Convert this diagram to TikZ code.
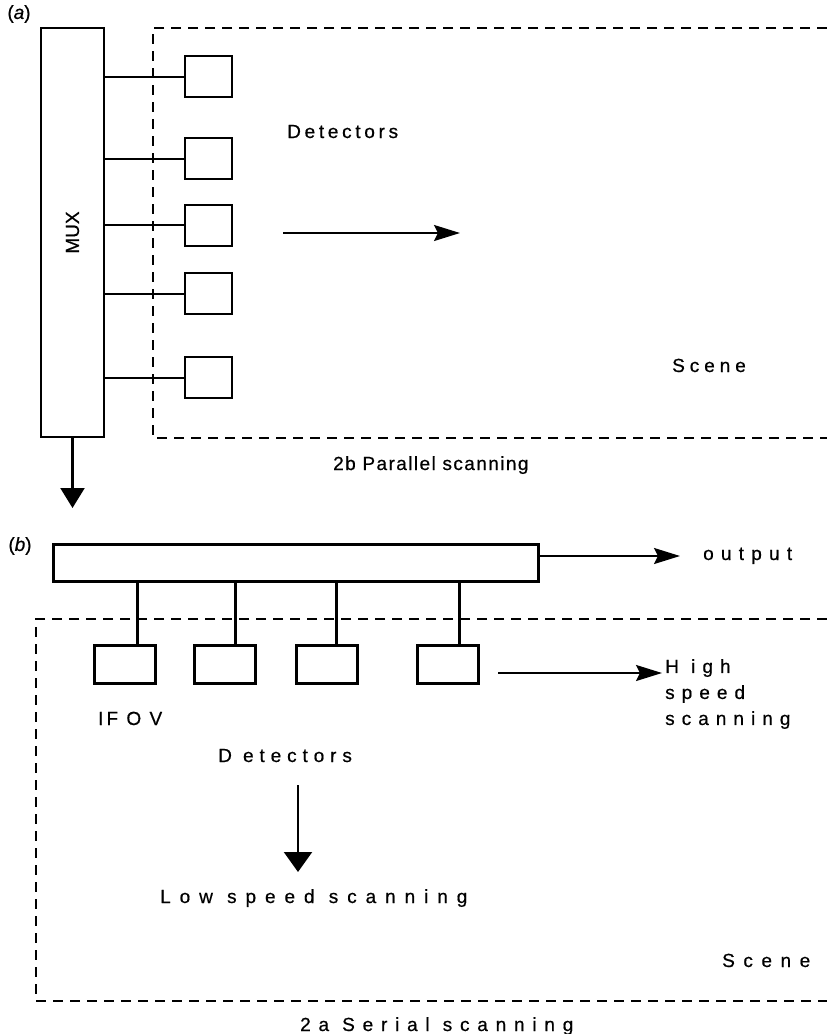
\documentclass[tikz,border=0pt]{standalone}
\usepackage{fontspec}
\setmainfont{Liberation Sans}
\usetikzlibrary{arrows.meta,positioning}

\begin{document}
\begin{tikzpicture}[x=1pt, y=-1pt,
  lab/.style={font=\fontsize{19}{26}\selectfont\addfontfeatures{LetterSpace=#1,FakeBold=0.6}, inner sep=0pt},
  lab/.default=0,
  det/.style={draw, line width=2pt, minimum width=47pt, minimum height=41pt, inner sep=0pt},
  sdet/.style={draw, line width=3pt, minimum width=61pt, minimum height=38pt, inner sep=0pt},
  scene/.style={dash pattern=on 10pt off 7pt, line width=2pt},
  link/.style={line width=2pt},
  boldlink/.style={line width=3pt},
  rarr/.style={-{Stealth[length=26pt,width=16pt,inset=4pt]}, line width=2.2pt},
  darr/.style={-{Triangle[length=20pt,width=#1]}, line width=2.2pt},
  darr/.default=24pt]
  \useasboundingbox (0,0) rectangle (827,1034);
  % (a) parallel scanning
  \node[lab] (taga) at (19,14) {(\textit{a})};
  \node[draw, line width=2pt, minimum width=63pt, minimum height=409pt, inner sep=0pt] (mux) at (72.5,232.5) {\rotatebox{90}{\fontsize{19}{20}\selectfont\addfontfeatures{FakeBold=0.6}MUX}};
  \draw[scene] (827,28) -- (153,28) -- (153,438) -- (827,438);
  \foreach \y [count=\k] in {76.5,158.5,225,293.5,377.5}{
    \node[det] (d\k) at (208.5,\y) {};
    \draw[link] (mux.east |- d\k) -- (d\k.west);
  }
  \node[lab=19.5, anchor=base west] (deta) at (287,138) {Detectors};
  \coordinate (m0) at (283,233);
  \coordinate (m1) at (460,233);
  \draw[rarr] (m0) -- (m1);
  \node[lab=26, anchor=base west] (scenea) at (672,372) {Scene};
  \node[lab=7.5, anchor=base west] (capa) at (333,470) {2b Parallel scanning};
  \coordinate (muxout) at (72.5,508);
  \draw[darr] (mux.south) -- (muxout);
  % (b) serial scanning
  \node[lab] (tagb) at (20,546) {(\textit{b})};
  \node[draw, line width=3pt, minimum width=485pt, minimum height=37pt, inner sep=0pt] (bar) at (295.5,562.5) {};
  \coordinate (otip) at (680,556);
  \draw[rarr] (bar.east |- otip) -- (otip);
  \node[lab=38, anchor=base west] (outlab) at (703,560) {output};
  \draw[scene] (827,619) -- (36,619) -- (36,1001) -- (827,1001);
  \foreach \x/\c [count=\k] in {124.5/137,224.5/235,326.5/336,448/459}{
    \node[sdet] (s\k) at (\x,664) {};
    \coordinate (c\k) at (\c,645);
    \draw[boldlink] (bar.south -| c\k) -- (c\k);
  }
  \coordinate (h0) at (498,673);
  \coordinate (h1) at (662,673);
  \draw[rarr] (h0) -- (h1);
  \node[lab=37, anchor=north west, align=left] (high) at (665,659) {H igh\\speed\\scanning};
  \node[lab=16, anchor=base west] (ifov) at (98,725) {IF O V};
  \node[lab=31, anchor=base west] (detb) at (218,762) {D etectors};
  \coordinate (l0) at (298,785);
  \coordinate (l1) at (298,872);
  \draw[darr=28pt] (l0) -- (l1);
  \node[lab=47, anchor=base west] (low) at (160,903) {Low speed scanning};
  \node[lab=45, anchor=base west] (sceneb) at (722,967) {Scene};
  \node[lab=41, anchor=base west] (capb) at (300,1031) {2a Serial scanning};
\end{tikzpicture}
\end{document}
